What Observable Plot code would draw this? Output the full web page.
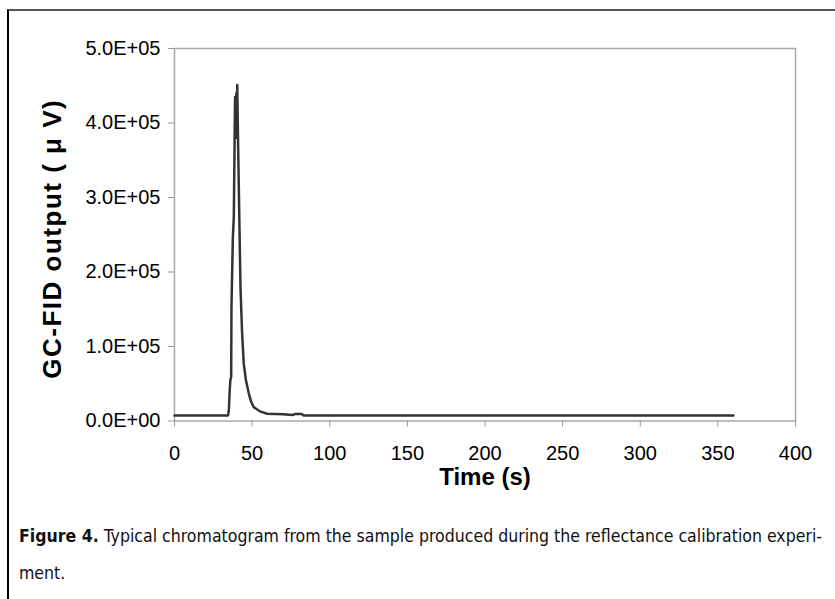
<!DOCTYPE html>
<html>
<head>
<meta charset="utf-8">
<script src="https://cdn.jsdelivr.net/npm/d3@7"></script>
<script src="https://cdn.jsdelivr.net/npm/@observablehq/plot@0.6"></script>
<style>
  html, body { margin: 0; padding: 0; background: #fff; width: 835px; height: 599px; overflow: hidden; }
  #frame { position: absolute; left: 7px; top: 9px; width: 900px; height: 700px;
           border-left: 2px solid #000; border-top: 2px solid #555; }
  #chart { position: absolute; left: 0; top: 0; }
  .ylab text { letter-spacing: 1.5px; }
  .cap { position: absolute; left: 19px; white-space: nowrap; transform-origin: 0 50%;
         font-family: "DejaVu Sans", sans-serif; font-stretch: condensed;
         font-size: 18px; line-height: 24px; color: #111; }
  .cap b { font-weight: bold; }
</style>
</head>
<body>
<div id="frame"></div>
<div id="chart"></div>
<div class="cap" id="cap1" style="top:524px"><b>Figure 4.</b> Typical chromatogram from the sample produced during the reflectance calibration experi-</div>
<div class="cap" id="cap2" style="top:561px">ment.</div>
<script>
const timeS = [0, 34.5, 35.0, 35.6, 36.0, 36.5, 36.7, 37.6, 38.2, 38.6, 39.0, 39.4, 39.8, 40.1, 40.4, 41.0, 41.9, 42.5, 43.5, 44.6, 46.0, 47.9, 49.5, 51.1, 55.0, 59.7, 65.0, 70.0, 76.0, 78.0, 82.0, 83.0, 360];
const signal = [7500, 7500, 14000, 43000, 55000, 59000, 153000, 247000, 274000, 354000, 435000, 380000, 440000, 400000, 451000, 367000, 255000, 180000, 120000, 77000, 55000, 36500, 25000, 18500, 13000, 9700, 9500, 9000, 8000, 9500, 9500, 7500, 7500];
const xTicks = [0, 50, 100, 150, 200, 250, 300, 350, 400];
const yTicks = [0, 100000, 200000, 300000, 400000, 500000];
const yTickLabels = ["0.0E+00", "1.0E+05", "2.0E+05", "3.0E+05", "4.0E+05", "5.0E+05"];
const xLabel = "Time (s)";
const yLabel = "GC-FID output ( \u03bc V)";

const data = timeS.map((t, i) => ({t, v: signal[i]}));

const chart = Plot.plot({
  width: 835,
  height: 491,
  marginLeft: 174,
  marginRight: 40,
  marginTop: 48,
  marginBottom: 70.5,
  style: {fontFamily: "'Liberation Sans', Arial, sans-serif", color: "#000", background: "transparent"},
  x: {domain: [0, 400]},
  y: {domain: [0, 500000]},
  marks: [
    Plot.frame({stroke: "#a8a8a8", strokeWidth: 1.5}),
    Plot.axisX({ticks: xTicks, tickSize: 6, tickPadding: 18.5, stroke: "#999", fontSize: 20, label: null, tickFormat: d => String(d)}),
    Plot.axisY({ticks: yTicks, tickSize: 6, tickPadding: 8, stroke: "#999", fontSize: 20, label: null,
                tickFormat: d => yTickLabels[yTicks.indexOf(d)]}),
    Plot.line(data, {x: "t", y: "v", stroke: "#333", strokeWidth: 2.5, strokeLinejoin: "round"}),
    Plot.text([yLabel], {className: "ylab", frameAnchor: "left", textAnchor: "middle", lineAnchor: "middle", dx: -122, dy: 4, rotate: -90, fontSize: 26, fontWeight: "bold", fill: "#000"}),
    Plot.text([xLabel], {frameAnchor: "bottom", textAnchor: "middle", lineAnchor: "middle", dy: 56, fontSize: 24, fontWeight: "bold", fill: "#000"})
  ]
});
document.getElementById("chart").appendChild(chart);

// fit caption line 1 to the reference's printed width
const c1 = document.getElementById("cap1"), c2 = document.getElementById("cap2");
const w = c1.getBoundingClientRect().width;
const s = 803 / w;
c1.style.transform = `scaleX(${s})`;
c2.style.transform = `scaleX(${s})`;
</script>
</body>
</html>
